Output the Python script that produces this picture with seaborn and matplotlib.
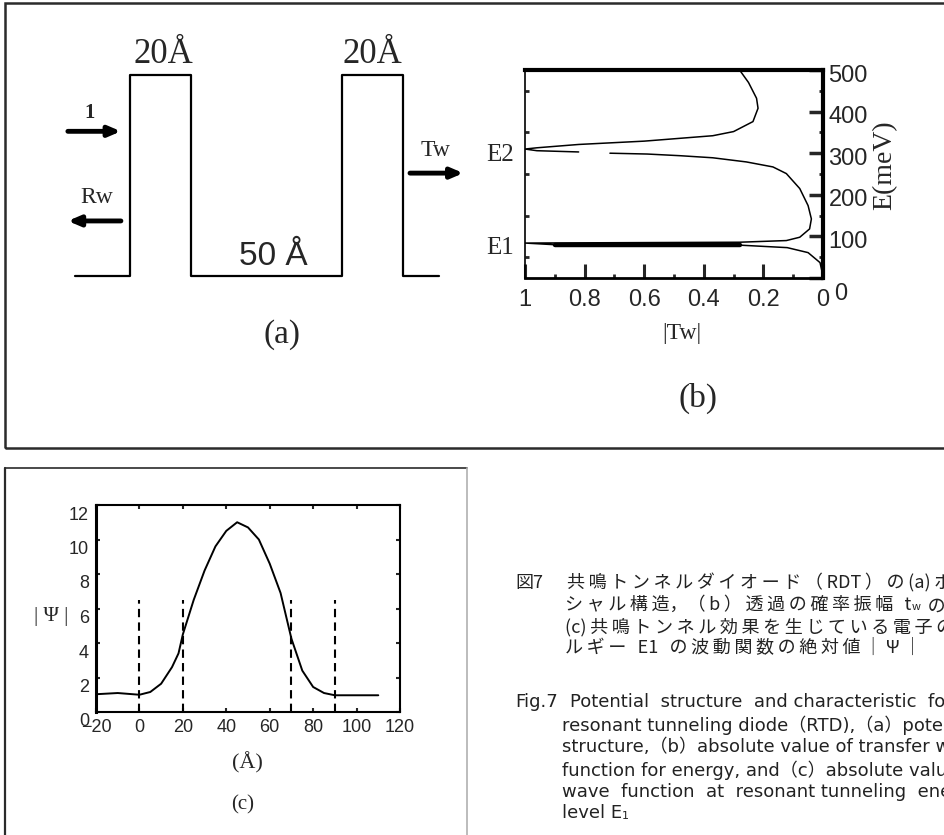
import seaborn as sns
import matplotlib.pyplot as plt
from matplotlib.patches import Rectangle
from matplotlib.lines import Line2D
from matplotlib.transforms import ScaledTranslation

# (a) potential profile of the double barrier, position in angstrom
pot_x = [-18, 0, 0, 20, 20, 70, 70, 90, 90, 102]
pot_v = [0, 0, 1, 1, 0, 0, 1, 1, 0, 0]

# (b) |Tw| against energy E (meV)
# branch from the top down to the gap just under E2
tw_upper = [0.28, 0.25, 0.223, 0.218, 0.235, 0.30, 0.37, 0.60, 0.82, 0.96, 1.0, 0.96, 0.82]
e_upper = [500, 470, 432, 408, 376, 352, 342, 329, 321, 313, 310, 306, 303]
# branch from under the gap down to zero energy (passes the E1 resonance)
tw_lower = [0.715, 0.59, 0.48, 0.37, 0.257, 0.168, 0.123, 0.078, 0.05, 0.039, 0.045,
            0.078, 0.123, 0.28, 1.0, 0.9, 0.28, 0.12, 0.05, 0.01, 0.0]
e_lower = [300, 298, 294, 289, 279, 267, 251, 215, 174, 142, 118,
           98, 90, 86, 84, 80, 79, 73, 61, 37, 5]
# the dense trace at the E1 peak prints as a heavy bar
tw_e1_band = [0.9, 0.28]
e_e1_band = [79.5, 79.5]
tw_ticks = [1, 0.8, 0.6, 0.4, 0.2, 0]
tw_ticklabels = ["1", "0.8", "0.6", "0.4", "0.2", "0"]
energy_ticks = [0, 100, 200, 300, 400, 500]

# (c) |psi| at the resonant level E1
psi_x = [-20, -10, 0, 5, 10, 15, 18, 20, 25, 30, 35, 40, 45, 50, 55, 60, 65, 70, 75, 80, 85, 90, 110]
psi_abs = [1.03, 1.1, 1.0, 1.16, 1.64, 2.6, 3.4, 4.5, 6.5, 8.2, 9.6, 10.5, 11.0, 10.7, 10.0, 8.6,
           6.9, 4.25, 2.4, 1.45, 1.1, 0.97, 0.97]
barrier_edges = [0, 20, 70, 90]
x_ticks_c = [-20, 0, 20, 40, 60, 80, 100, 120]
y_ticks_c = [0, 2, 4, 6, 8, 10, 12]

caption_jp = ["共鳴トンネルダイオード（RDT）の(a)ポテン",
              "シャル構造，（b）透過の確率振幅 t",
              "(c)共鳴トンネル効果を生じている電子のエネ",
              "ルギー E1 の波動関数の絶対値｜Ψ｜"]
caption_en = ["Potential  structure  and characteristic  for  the",
              "resonant tunneling diode（RTD),（a）potential",
              "structure,（b）absolute value of transfer wave",
              "function for energy, and（c）absolute value of",
              "wave  function  at  resonant tunneling  energy",
              "level E"]

sns.set_style("white")
plt.rcParams["font.family"] = ["Liberation Sans", "DejaVu Sans"]
SERIF = ["Liberation Serif", "DejaVu Serif"]
SANS = ["Liberation Sans", "DejaVu Sans"]
CJK = ["Noto Sans CJK JP", "DejaVu Sans"]
EN = ["DejaVu Sans", "Noto Sans CJK JP"]

W, H = 945, 835
fig = plt.figure(figsize=(9.45, 8.35), dpi=100)


def box(l, t, r, b):
    # pixel box -> figure fraction
    return [l / W, 1 - b / H, (r - l) / W, (b - t) / H]


def ftext(x, y, s, **kw):
    kw.setdefault("ha", "center")
    kw.setdefault("va", "center")
    return fig.text(x / W, 1 - y / H, s, **kw)


def track(s):
    # the printed japanese is letter-spaced: thin space between glyphs,
    # but not inside ascii runs or next to the wide comma
    out = s[0]
    for a, b in zip(s, s[1:]):
        if not (a.isascii() and b.isascii() and " " not in (a, b)) and "，" not in (a, b):
            out += "\u2009"
        out += b
    return out


def shift(labels, dx_px, dy_px):
    for lab in labels:
        lab.set_transform(lab.get_transform() + ScaledTranslation(dx_px / 100, -dy_px / 100, fig.dpi_scale_trans))


# frames
fig.add_artist(Rectangle((5 / W, 1 - 448 / H), 1.0, 445 / H, transform=fig.transFigure,
                         fill=False, ec="#2b2b2b", lw=1.8))
fig.add_artist(Line2D([5 / W, 5 / W], [1 - 468 / H, 0], transform=fig.transFigure, color="#2b2b2b", lw=1.6))
fig.add_artist(Line2D([5 / W, 467 / W], [1 - 468 / H, 1 - 468 / H], transform=fig.transFigure,
                      color="#2b2b2b", lw=1.2))
fig.add_artist(Line2D([467 / W, 467 / W], [1 - 468 / H, 0], transform=fig.transFigure, color="#b0b0b0", lw=1.2))

# ---- (a) potential structure
ax_a = fig.add_axes(box(40, 20, 470, 360))
sns.lineplot(x=pot_x, y=pot_v, sort=False, estimator=None, color="black", lw=1.6, ax=ax_a)
ax_a.set_xlim(-29.7, 112.2)
ax_a.set_ylim(-0.418, 1.274)
ax_a.axis("off")
ax_a.text(10.9, 1.02, "20Å", ha="center", va="bottom", family=SERIF, size=25)
ax_a.text(80, 1.02, "20Å", ha="center", va="bottom", family=SERIF, size=25)
ax_a.text(47.2, 0.02, "50 Å", ha="center", va="bottom", family=SANS, size=24)
ax_a.text(-13.2, 0.81, "1", ha="center", va="center", family=SERIF, size=15, weight="bold")
ax_a.text(-10.9, 0.39, "Rw", ha="center", va="center", family=SERIF, size=17)
ax_a.text(100.7, 0.627, "Tw", ha="center", va="center", family=SERIF, size=17)
ax_a.text(50.2, -0.29, "(a)", ha="center", va="center", family=SERIF, size=24)
arrow = dict(arrowstyle="-|>,head_length=0.7,head_width=0.3", lw=3.5, color="black",
             shrinkA=0, shrinkB=0)
ax_a.annotate("", xy=(-3, 0.72), xytext=(-20.5, 0.72), arrowprops=arrow)
ax_a.annotate("", xy=(-20.5, 0.274), xytext=(-3, 0.274), arrowprops=arrow)
ax_a.annotate("", xy=(110, 0.512), xytext=(92.4, 0.512), arrowprops=arrow, annotation_clip=False)

# ---- (b) |Tw| vs energy
ax_b = fig.add_axes(box(525, 70, 823, 278))
sns.lineplot(x=tw_upper, y=e_upper, sort=False, estimator=None, color="black", lw=1.1, ax=ax_b)
sns.lineplot(x=tw_lower, y=e_lower, sort=False, estimator=None, color="black", lw=1.1, ax=ax_b)
sns.lineplot(x=tw_e1_band, y=e_e1_band, sort=False, estimator=None, color="black", lw=3.2, ax=ax_b)
ax_b.set_xlim(1, 0)
ax_b.set_ylim(0, 500)
ax_b.set_xticks(tw_ticks, tw_ticklabels)
ax_b.set_xticks([0.9, 0.7, 0.5, 0.3, 0.1], minor=True)
ax_b.yaxis.tick_right()
ax_b.set_yticks(energy_ticks)
ax_b.set_yticks([50, 150, 250, 350, 450], minor=True)
ax_b.tick_params(axis="x", which="major", direction="in", length=10, width=2.2, labelsize=17, pad=8,
                 bottom=True)
ax_b.tick_params(axis="x", which="minor", direction="in", length=3, width=2, bottom=True)
ax_b.tick_params(axis="y", which="major", direction="in", length=10, width=2.5, labelsize=17, pad=4,
                 right=True, left=False)
ax_b.tick_params(axis="y", which="minor", direction="in", length=3, width=2, right=True, left=True)
for lab in ax_b.get_xticklabels() + ax_b.get_yticklabels():
    lab.set_family(SANS)
shift(ax_b.get_yticklabels()[1:], 0, 3)
shift(ax_b.get_yticklabels()[:1], 6, 13)
for side, lw in [("top", 3.0), ("right", 3.0), ("bottom", 2.0), ("left", 1.2)]:
    ax_b.spines[side].set_linewidth(lw)
    ax_b.spines[side].set_color("black")
    ax_b.spines[side].set_visible(True)
ftext(885, 165, "E(meV)", family=SERIF, size=20, rotation=90)
ftext(682, 333, "|Tw|", family=SERIF, size=17)
ftext(698, 398, "(b)", family=SERIF, size=24)
ftext(500, 155, "E2", family=SERIF, size=18)
ftext(500, 248, "E1", family=SERIF, size=18)

# ---- (c) |psi| at E1
ax_c = fig.add_axes(box(96, 505, 400, 712))
sns.lineplot(x=psi_x, y=psi_abs, sort=False, estimator=None, color="black", lw=1.4, ax=ax_c)
ax_c.vlines(barrier_edges, 0, 6.5, colors="black", linestyles=(0, (4, 2.5)), lw=1.5)
ax_c.set_xlim(-20, 120)
ax_c.set_ylim(0, 12)
ax_c.set_xticks(x_ticks_c)
ax_c.set_yticks(y_ticks_c)
ax_c.tick_params(which="both", direction="in", length=3, width=1.5, top=True, right=True,
                 bottom=True, left=True, labelsize=13, pad=5)
for lab in ax_c.get_xticklabels() + ax_c.get_yticklabels():
    lab.set_family(SANS)
shift(ax_c.get_yticklabels(), 0, 8)
for side in ["top", "right", "bottom", "left"]:
    ax_c.spines[side].set_linewidth(1.5)
    ax_c.spines[side].set_color("black")
    ax_c.spines[side].set_visible(True)
ax_c.spines["left"].set_linewidth(2.2)
ftext(51, 617, "| Ψ |", family=SERIF, size=15)
ftext(247, 763, "(Å)", family=SERIF, size=16)
ftext(243, 805, "(c)", family=SERIF, size=15)

# ---- caption
cap_color = "#222222"
ftext(515, 583, "図7", ha="left", family=CJK, size=13, color=cap_color)
jp_rows = [583, 605, 627, 648]
jp_left = [567, 565, 565, 565]
for s, y, x in zip(caption_jp, jp_rows, jp_left):
    t = ftext(x, y, track(s), ha="left", family=CJK, size=13, color=cap_color)
    if s.endswith(" t"):
        w = fig.add_artist(plt.Annotation("w", xy=(1.0, 0.12), xycoords=t, ha="left", va="bottom",
                                          family=CJK, size=8, color=cap_color))
        fig.add_artist(plt.Annotation(track(" の絶対値，"), xy=(1.0, -0.4), xycoords=w, ha="left",
                                      va="bottom", family=CJK, size=13, color=cap_color))

ftext(515, 702, "Fig.7", ha="left", family=EN, size=13, color=cap_color)
en_rows = [702, 725, 747, 770, 792, 813]
en_left = [570, 562, 562, 562, 562, 562]
for s, y, x in zip(caption_en, en_rows, en_left):
    t = ftext(x, y, s, ha="left", family=EN, size=13, color=cap_color)
    if s == "level E":
        fig.add_artist(plt.Annotation("1", xy=(1.0, 0.05), xycoords=t, ha="left", va="bottom",
                                      family=EN, size=8, color=cap_color))

fig.savefig("out.png", dpi=100)
